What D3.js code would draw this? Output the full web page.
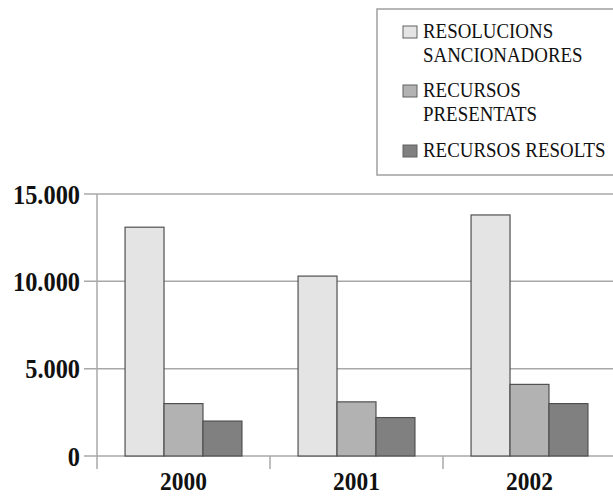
<!DOCTYPE html>
<html>
<head>
<meta charset="utf-8">
<script src="https://cdn.jsdelivr.net/npm/d3@7"></script>
<style>
    body { margin: 0; background: #fff; }
    svg { display: block; }
    text { font-family: "Liberation Serif", "DejaVu Serif", serif; fill: #111; }
</style>
</head>
<body>
<svg width="613" height="496"></svg>
<script>
// chart data
const years = ["2000", "2001", "2002"];
const seriesNames = [
    ["RESOLUCIONS", "SANCIONADORES"],
    ["RECURSOS", "PRESENTATS"],
    ["RECURSOS RESOLTS"]
];
const resolucions = [13100, 10300, 13800];
const presentats = [3000, 3100, 4100];
const resolts = [2000, 2200, 3000];
const yTicks = [0, 5000, 10000, 15000];
const yTickLabels = ["0", "5.000", "10.000", "15.000"];

const colors = ["#e4e4e4", "#b2b2b2", "#808080"];
const series = [resolucions, presentats, resolts];

let svg = d3.select("svg");

let x = d3.scaleBand()
    .domain(years)
    .range([97, 616]);

let inner = d3.scaleBand()
    .domain(d3.range(series.length))
    .range([0, x.bandwidth()])
    .paddingOuter(0.72)
    .paddingInner(0);

let y = d3.scaleLinear()
    .domain([0, 15000])
    .range([456, 194]);

// gridlines
svg.append("g")
    .selectAll("line")
    .data(yTicks)
    .enter()
    .append("line")
    .attr("x1", 84)
    .attr("x2", 613)
    .attr("y1", d => y(d))
    .attr("y2", d => y(d))
    .attr("stroke", "#a8a8a8")
    .attr("stroke-width", 1.5);

// y axis line
svg.append("line")
    .attr("x1", 97).attr("x2", 97)
    .attr("y1", 194).attr("y2", 469)
    .attr("stroke", "#a8a8a8")
    .attr("stroke-width", 1.5);

// category separators
svg.append("g")
    .selectAll("line")
    .data(years.slice(1))
    .enter()
    .append("line")
    .attr("x1", d => x(d))
    .attr("x2", d => x(d))
    .attr("y1", y(0))
    .attr("y2", 469)
    .attr("stroke", "#a8a8a8")
    .attr("stroke-width", 1.5);

// bars
series.forEach((vals, i) => {
    svg.append("g")
        .selectAll("rect")
        .data(vals)
        .enter()
        .append("rect")
        .attr("x", (d, j) => x(years[j]) + inner(i))
        .attr("y", d => y(d))
        .attr("width", inner.bandwidth())
        .attr("height", d => y(0) - y(d))
        .attr("fill", colors[i])
        .attr("stroke", "#505050")
        .attr("stroke-width", 1.2);
});

// condensed text, the original type is narrow
function squeezedText(g, tx, ty, str, size, anchor, weight, sq) {
    g.append("text")
        .attr("transform", `translate(${tx},${ty}) scale(${sq},1)`)
        .attr("text-anchor", anchor)
        .attr("font-size", size)
        .attr("font-weight", weight)
        .text(str);
}

// y tick labels
let yl = svg.append("g");
yTicks.forEach((t, i) => {
    squeezedText(yl, 80, y(t) + 9.5, yTickLabels[i], 28, "end", "bold", 0.87);
});

// x labels
let xl = svg.append("g");
years.forEach(yr => {
    squeezedText(xl, x(yr) + x.bandwidth() / 2, 490, yr, 26, "middle", "bold", 0.9);
});

// legend
let legend = svg.append("g");
legend.append("rect")
    .attr("x", 377)
    .attr("y", 9)
    .attr("width", 250)
    .attr("height", 166)
    .attr("fill", "#fff")
    .attr("stroke", "#a0a0a0")
    .attr("stroke-width", 1.5);

const legendTops = [38, 97, 157];
seriesNames.forEach((lines, i) => {
    legend.append("rect")
        .attr("x", 403)
        .attr("y", legendTops[i] - 12)
        .attr("width", 14)
        .attr("height", 12)
        .attr("fill", colors[i])
        .attr("stroke", "#606060")
        .attr("stroke-width", 1);
    lines.forEach((ln, k) => {
        squeezedText(legend, 423, legendTops[i] + k * 24, ln, 21, "start", "normal", 0.9);
    });
});
</script>
</body>
</html>
